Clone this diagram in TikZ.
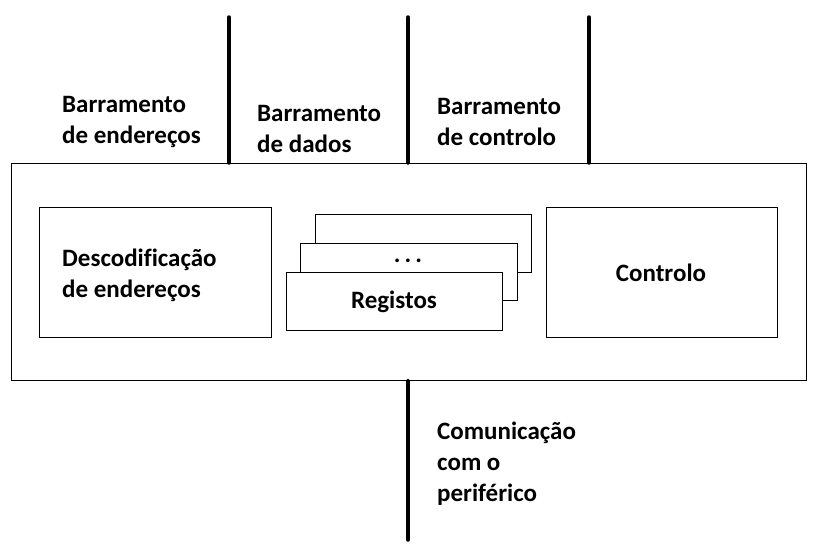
\documentclass[tikz,border=0pt]{standalone}
\usepackage{fontspec}
\setmainfont[Ligatures=NoCommon]{Carlito}
\begin{document}
\begin{tikzpicture}[x=1pt, y=-1pt]
            \useasboundingbox (0,0) rectangle (817,549);
            \tikzset{
                box/.style={draw, thick, fill=white, inner sep=0pt, anchor=north west},
                bus/.style={line width=3.5pt, line cap=round},
                lbl/.style={font=\bfseries\fontsize{25}{31}\selectfont, align=left, anchor=west, inner sep=0pt}
            }

            % outer box
            \node[box, minimum width=795, minimum height=217] (dev) at (11,163) {};

            \begin{scope}[
                    every node/.style={box}
                ]
                \node[minimum width=232, minimum height=130] (dec) at (39,207) {};
                \node[minimum width=216, minimum height=58] (r3) at (315,214) {};
                \node[minimum width=217, minimum height=57] (r2) at (300,243) {};
                \node[minimum width=216, minimum height=58] (r1) at (286,272) {};
                \node[minimum width=231, minimum height=130] (ctl) at (546,207) {};
            \end{scope}

            \begin{scope}[
                    every node/.style={lbl}
                ]
                \node (ta) at (62,122) {Barramento\\de endereços};
                \node (td) at (257,129) {Barramento\\de dados};
                \node (tc) at (437,122) {Barramento\\de controlo};
                \node (tdec) at (62,275) {Descodificação\\de endereços};
                \node (tcom) at (437,464) {Comunicação\\com o\\periférico};
                \node[anchor=center] (tctl) at (661,273) {Controlo};
                \node[anchor=center] (treg) at (394,302) {Registos};
                \node[anchor=center] (tdots) at (408,261) {.\,.\,.};
            \end{scope}

            \coordinate (a0) at (229,17);
            \coordinate (d0) at (408,17);
            \coordinate (c0) at (589,17);
            \coordinate (p0) at (408,540);

            \draw[bus] (a0) -- (a0 |- dev.north);
            \draw[bus] (d0) -- (d0 |- dev.north);
            \draw[bus] (c0) -- (c0 |- dev.north);
            \draw[bus] (p0) -- (p0 |- dev.south);

        \end{tikzpicture}
\end{document}
